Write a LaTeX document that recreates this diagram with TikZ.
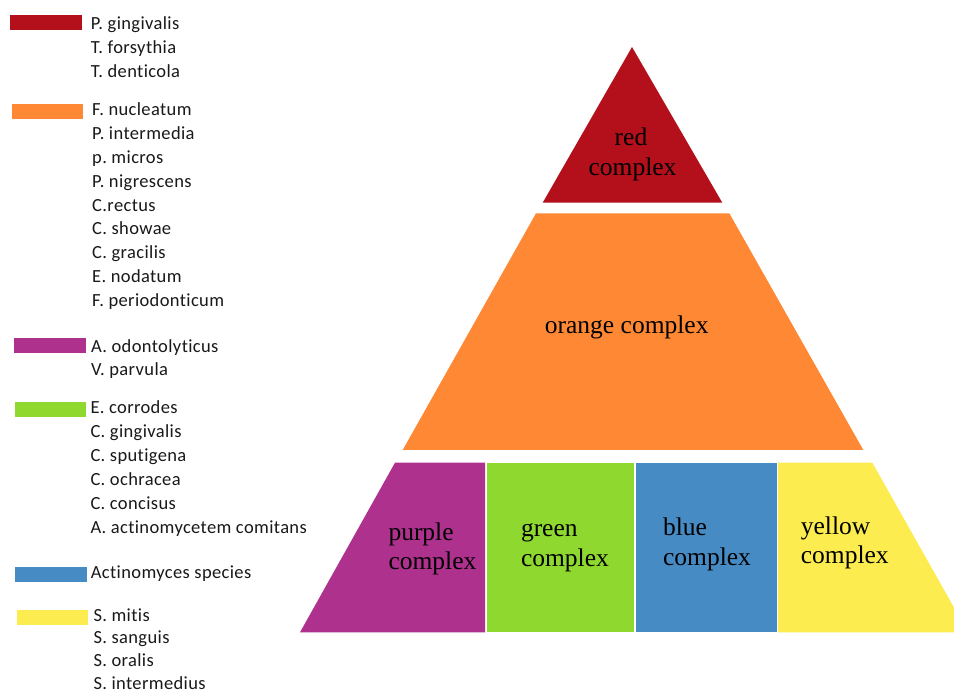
\documentclass[tikz,border=0pt]{standalone}
\usepackage{fontspec}
\setmainfont{Liberation Serif}
\newfontfamily\legfont[Ligatures=NoCommon,LetterSpace=2]{Carlito}
\frenchspacing
\definecolor{cred}{HTML}{B3101B}
\definecolor{corange}{HTML}{FF8834}
\definecolor{cpurple}{HTML}{AE318E}
\definecolor{cgreen}{HTML}{8ED830}
\definecolor{cblue}{HTML}{478BC4}
\definecolor{cyellow}{HTML}{FCEC50}
\tikzset{
  leg/.style={anchor=base west, inner sep=0pt, font=\legfont\fontsize{18.5}{22}\selectfont, text=black!90},
  lbl/.style={inner sep=0pt, font=\fontsize{25.5}{30}\selectfont, text=black},
}
\begin{document}
\begin{tikzpicture}[x=1pt,y=-1pt]
\useasboundingbox (0,0) rectangle (954,692);
\clip (0,0) rectangle (954,692);
\fill[white] (0,0) rectangle (954,692);
% legend swatches
\fill[cred] (10,15) rectangle (82,30);
\fill[corange] (12.3,104.3) rectangle (83.3,119);
\fill[cpurple] (14,338.3) rectangle (86,352.7);
\fill[cgreen] (15,401.7) rectangle (86,416.7);
\fill[cblue] (15,567.3) rectangle (86.7,582.3);
\fill[cyellow] (16.7,610) rectangle (88.3,625);
% legend texts
\foreach \t [count=\i] in {P. gingivalis, T. forsythia, T. denticola}
  \node[leg] (r\i) at (90.7,{29.3+24*(\i-1)}) {\t};
\foreach \t [count=\i] in {F. nucleatum, P. intermedia, p. micros, P. nigrescens, C.rectus, C. showae, C. gracilis, E. nodatum, F. periodonticum}
  \node[leg] (o\i) at (92,{116+23.8*(\i-1)}) {\t};
\foreach \t [count=\i] in {A. odontolyticus, V. parvula}
  \node[leg] (p\i) at (91,{352.3+23.6*(\i-1)}) {\t};
\foreach \t [count=\i] in {E. corrodes, C. gingivalis, C. sputigena, C. ochracea, C. concisus, A. actinomycetem comitans}
  \node[leg] (g\i) at (90.3,{414+23.9*(\i-1)}) {\t};
\node[leg] (b1) at (90.7,578.3) {Actinomyces species};
\foreach \t [count=\i] in {S. mitis, S. sanguis, S. oralis, S. intermedius}
  \node[leg] (y\i) at (93.3,{621+22.7*(\i-1)}) {\t};
% pyramid
\fill[cred] (632,47) -- (722.3,202.7) -- (542.7,202.7) -- cycle;
\fill[corange] (536,213.3) -- (729.3,213.3) -- (863.3,450) -- (402.7,450) -- cycle;
\fill[cpurple] (300,632.3) -- (395,462.7) -- (485,462.7) -- (485,632.3) -- cycle;
\fill[cgreen] (487,462.7) rectangle (633.5,632.3);
\fill[cblue] (635.5,462.7) rectangle (776.7,632.3);
\fill[cyellow] (778,462.7) -- (872.3,462.7) -- (968,632.3) -- (778,632.3) -- cycle;
% labels
\node[lbl, anchor=base] (redA) at (631,146) {red};
\node[lbl, anchor=base] (redB) at (632.5,176) {complex};
\node[lbl, anchor=base] (orA) at (626.7,334) {orange complex};
\node[lbl, anchor=base west] (puA) at (388.3,540) {purple};
\node[lbl, anchor=base west] (puB) at (388.3,569.3) {complex};
\node[lbl, anchor=base west] (grA) at (520.8,536.7) {green};
\node[lbl, anchor=base west] (grB) at (520.8,566) {complex};
\node[lbl, anchor=base west] (blA) at (662.9,536) {blue};
\node[lbl, anchor=base west] (blB) at (662.9,565.5) {complex};
\node[lbl, anchor=base west] (yeA) at (800.7,534.3) {yellow};
\node[lbl, anchor=base west] (yeB) at (800.7,564) {complex};
\end{tikzpicture}
\end{document}
